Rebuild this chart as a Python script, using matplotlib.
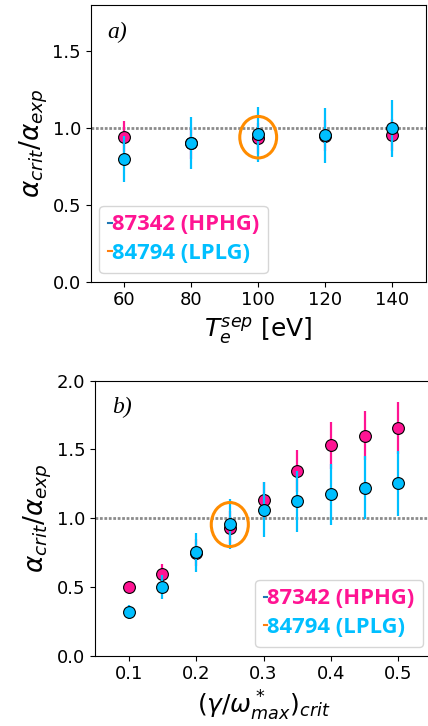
import matplotlib
matplotlib.use("Agg")
import matplotlib.pyplot as plt
from matplotlib.patches import Ellipse
from matplotlib.lines import Line2D

# ---- data panel a ----
te_sep = [60, 80, 100, 120, 140]
a_hphg = [0.944, 0.90, 0.933, 0.95, 0.955]
a_hphg_err = [0.10, 0.10, 0.10, 0.10, 0.105]
a_lplg = [0.80, 0.90, 0.959, 0.952, 0.998]
a_lplg_err = [0.15, 0.17, 0.18, 0.18, 0.185]

# ---- data panel b ----
gam = [0.1, 0.15, 0.2, 0.25, 0.3, 0.35, 0.4, 0.45, 0.5]
b_hphg = [0.50, 0.594, 0.75, 0.932, 1.133, 1.343, 1.531, 1.601, 1.657]
b_hphg_err = [0.04, 0.07, 0.10, 0.12, 0.13, 0.15, 0.17, 0.18, 0.19]
b_lplg = [0.319, 0.50, 0.751, 0.957, 1.06, 1.123, 1.174, 1.222, 1.253]
b_lplg_err = [0.05, 0.09, 0.14, 0.18, 0.20, 0.22, 0.22, 0.23, 0.235]

labels = ["87342 (HPHG)", "84794 (LPLG)"]
PINK = "#ff1493"
BLUE = "#00bfff"
ORANGE = "#ff8c00"

fig = plt.figure(figsize=(4.28, 7.26), dpi=100)
ax1 = fig.add_axes([90.7/428, (726-281.7)/726, 335/428, 276.7/726])
ax2 = fig.add_axes([95/428, (726-655.7)/726, 337/428, 275/726])

def panel(ax, x, y1, e1, y2, e2, circ, circ_w, circ_h, letter, legloc):
    ax.axhline(1.0, color="#8c8c8c", lw=2, ls=(0, (1, 0.6)), zorder=1)
    ax.errorbar(x, y1, yerr=e1, fmt="o", color=PINK, ecolor=PINK, elinewidth=1.6,
                mec="black", mew=0.8, ms=8.5, zorder=2)
    ax.errorbar(x, y2, yerr=e2, fmt="o", color=BLUE, ecolor=BLUE, elinewidth=1.6,
                mec="black", mew=0.8, ms=8.5, zorder=3)
    ax.add_patch(Ellipse(circ, circ_w, circ_h, fill=False, ec=ORANGE, lw=2.2, zorder=4))
    ax.text(0.05, 0.94, letter, transform=ax.transAxes, fontsize=17, style="italic",
            family="Liberation Serif", va="top", ha="left")
    handles = [Line2D([], [], color="tab:blue", lw=1.5), Line2D([], [], color="tab:orange", lw=1.5)]
    leg = ax.legend(handles, labels, loc=legloc, handlelength=0.15, handletextpad=0.0,
                    prop={"family": "Open Sans", "weight": "bold", "size": 15.8},
                    borderpad=0.4, labelspacing=0.35, borderaxespad=0.4)
    for t, c in zip(leg.get_texts(), [PINK, BLUE]):
        t.set_color(c)
    ax.tick_params(labelsize=13)
    ax.set_ylabel(r"$\alpha_{crit}/\alpha_{exp}$", fontsize=19, labelpad=2)

panel(ax1, te_sep, a_hphg, a_hphg_err, a_lplg, a_lplg_err, (100, 0.94), 11, 0.27, "a)", "lower left")
ax1.set_xlim(50, 150)
ax1.set_ylim(0, 1.8)
ax1.set_xticks([60, 80, 100, 120, 140])
ax1.set_yticks([0.0, 0.5, 1.0, 1.5])
ax1.set_xlabel(r"$T_e^{sep}$ [eV]", fontsize=18)

panel(ax2, gam, b_hphg, b_hphg_err, b_lplg, b_lplg_err, (0.25, 0.954), 0.055, 0.32, "b)", "lower right")
ax2.set_xlim(0.05, 0.55)
ax2.set_ylim(0, 2.0)
ax2.set_xticks([0.1, 0.2, 0.3, 0.4, 0.5])
ax2.set_yticks([0.0, 0.5, 1.0, 1.5, 2.0])
ax2.set_xlabel(r"$(\gamma/\omega^*_{max})_{crit}$", fontsize=18)

fig.savefig("out.png", dpi=100)
